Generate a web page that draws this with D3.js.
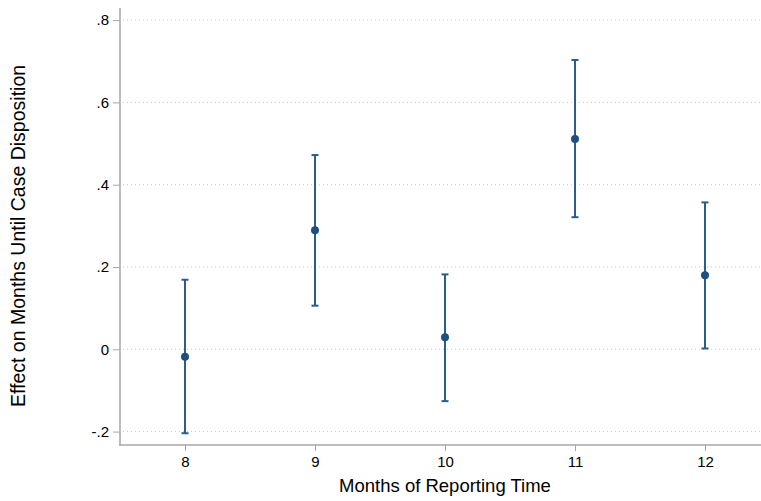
<!DOCTYPE html>
<html>
<head>
<meta charset="utf-8">
<script src="https://cdn.jsdelivr.net/npm/d3@7"></script>
<style>
  html, body { margin: 0; padding: 0; background: #fff; }
  svg { display: block; }
  text { font-family: "Liberation Sans", Arial, sans-serif; fill: #000; }
</style>
</head>
<body>
<svg id="chart" width="761" height="501"></svg>
<script>
// Data
const months = [8, 9, 10, 11, 12];
const estimates = [-0.018, 0.289, 0.029, 0.511, 0.180];
const lowerCI = [-0.204, 0.106, -0.126, 0.321, 0.002];
const upperCI = [0.169, 0.472, 0.182, 0.703, 0.357];
const yTickValues = [-0.2, 0, 0.2, 0.4, 0.6, 0.8];
const yTickLabels = ["-.2", "0", ".2", ".4", ".6", ".8"];
const xTickValues = [8, 9, 10, 11, 12];
const xTitle = "Months of Reporting Time";
const yTitle = "Effect on Months Until Case Disposition";

(function () {
const svg = d3.select("#chart");
const pLeft = 120, pRight = 770, pTop = 8, pBottom = 445;

const x = d3.scaleLinear().domain([7.5, 12.5]).range([pLeft, pRight]);
const y = d3.scaleLinear().domain([-0.2326, 0.8294]).range([pBottom, pTop]);

const axisColor = "#a6a6a6";
const lineColor = "#2a5d8c";
const dotColor = "#1d4f7f";

// Gridlines
svg.append("g").selectAll("line")
  .data(yTickValues)
  .join("line")
  .attr("x1", pLeft + 3).attr("x2", 761)
  .attr("y1", d => y(d)).attr("y2", d => y(d))
  .attr("stroke", "#c8c8c8")
  .attr("stroke-width", 1)
  .attr("stroke-dasharray", "1,3");

// Y axis
const yAxis = d3.axisLeft(y)
  .tickValues(yTickValues)
  .tickFormat((d, i) => yTickLabels[i])
  .tickSize(7)
  .tickPadding(4);
const gy = svg.append("g").attr("transform", `translate(${pLeft},0)`).call(yAxis);
gy.select(".domain").remove();
gy.append("line").attr("x1", 0).attr("x2", 0).attr("y1", pTop).attr("y2", pBottom + 0.75)
  .attr("stroke", axisColor).attr("stroke-width", 1.5);
gy.selectAll(".tick line").attr("stroke", axisColor).attr("stroke-width", 1);
gy.selectAll(".tick text").attr("font-size", "15px").attr("fill", "#000")
  .attr("font-family", "Liberation Sans, Arial, sans-serif");

// X axis
const xAxis = d3.axisBottom(x)
  .tickValues(xTickValues)
  .tickFormat(d3.format("d"))
  .tickSize(6)
  .tickPadding(5);
const gx = svg.append("g").attr("transform", `translate(0,${pBottom})`).call(xAxis);
gx.select(".domain").remove();
gx.append("line").attr("x1", pLeft - 0.75).attr("x2", 761).attr("y1", 0).attr("y2", 0)
  .attr("stroke", axisColor).attr("stroke-width", 1.5);
gx.selectAll(".tick line").attr("stroke", axisColor).attr("stroke-width", 1);
gx.selectAll(".tick text").attr("font-size", "15px").attr("fill", "#000")
  .attr("font-family", "Liberation Sans, Arial, sans-serif");

// Error bars
const rows = months.map((m, i) => ({ m, est: estimates[i], lo: lowerCI[i], hi: upperCI[i] }));
const g = svg.append("g");
g.selectAll("line.ci").data(rows).join("line").attr("class", "ci")
  .attr("x1", d => x(d.m)).attr("x2", d => x(d.m))
  .attr("y1", d => y(d.lo)).attr("y2", d => y(d.hi))
  .attr("stroke", lineColor).attr("stroke-width", 2);
g.selectAll("line.capHi").data(rows).join("line").attr("class", "capHi")
  .attr("x1", d => x(d.m) - 3.5).attr("x2", d => x(d.m) + 3.5)
  .attr("y1", d => y(d.hi)).attr("y2", d => y(d.hi))
  .attr("stroke", lineColor).attr("stroke-width", 2);
g.selectAll("line.capLo").data(rows).join("line").attr("class", "capLo")
  .attr("x1", d => x(d.m) - 3.5).attr("x2", d => x(d.m) + 3.5)
  .attr("y1", d => y(d.lo)).attr("y2", d => y(d.lo))
  .attr("stroke", lineColor).attr("stroke-width", 2);
g.selectAll("circle").data(rows).join("circle")
  .attr("cx", d => x(d.m)).attr("cy", d => y(d.est)).attr("r", 4)
  .attr("fill", dotColor);

// Titles
svg.append("text")
  .attr("x", 445).attr("y", 492)
  .attr("text-anchor", "middle")
  .attr("font-size", "18.5px")
  .text(xTitle);
svg.append("text")
  .attr("transform", "translate(24.5,236) rotate(-90)")
  .attr("text-anchor", "middle")
  .attr("font-size", "19.5px")
  .text(yTitle);
})();
</script>
</body>
</html>
